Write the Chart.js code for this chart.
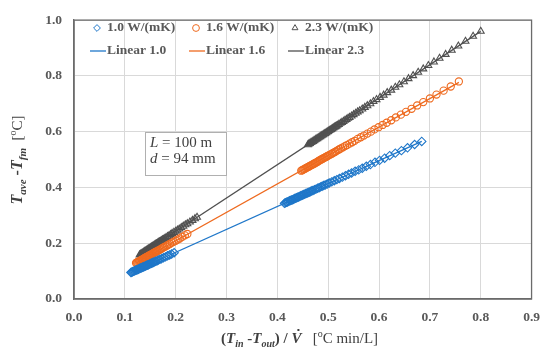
<!DOCTYPE html>
<html>
<head>
<meta charset="utf-8">
<script src="https://cdn.jsdelivr.net/npm/chart.js@4.4.0/dist/chart.umd.min.js"></script>
<style>
  html, body { margin: 0; padding: 0; background: #fff; }
</style>
</head>
<body>
<canvas id="chart1" width="550" height="354"></canvas>
<script>
// values
const xTicks = [0, 0.1, 0.2, 0.3, 0.4, 0.5, 0.6, 0.7, 0.8, 0.9];
const yTicks = [0, 0.2, 0.4, 0.6, 0.8, 1.0];

const seriesNames = ["1.0 W/(mK)", "1.6 W/(mK)", "2.3 W/(mK)"];
const fitNames = ["Linear 1.0", "Linear 1.6", "Linear 2.3"];

// [x, y] pairs
const k10 = [
  [0.1120, 0.095], [0.1135, 0.096], [0.1150, 0.098], [0.1165, 0.099], [0.1180, 0.100], [0.1195, 0.101],
  [0.1210, 0.103], [0.1225, 0.104], [0.1240, 0.105], [0.1255, 0.106], [0.1270, 0.107], [0.1285, 0.109],
  [0.1300, 0.110], [0.1315, 0.111], [0.1330, 0.112], [0.1345, 0.114], [0.1360, 0.115], [0.1375, 0.116],
  [0.1390, 0.117], [0.1405, 0.118], [0.1420, 0.120], [0.1435, 0.121], [0.1450, 0.122], [0.1465, 0.123],
  [0.1480, 0.125], [0.1495, 0.126], [0.1510, 0.127], [0.1525, 0.128], [0.1540, 0.130], [0.1555, 0.131],
  [0.1570, 0.132], [0.1590, 0.134], [0.1610, 0.135], [0.1635, 0.137], [0.1660, 0.140], [0.1690, 0.142],
  [0.1720, 0.144], [0.1760, 0.148], [0.1800, 0.151], [0.1840, 0.155], [0.1880, 0.158], [0.1920, 0.161],
  [0.1970, 0.166],
  [0.414, 0.343], [0.416, 0.345], [0.418, 0.347], [0.420, 0.348], [0.422, 0.350], [0.424, 0.352],
  [0.426, 0.353], [0.428, 0.355], [0.430, 0.356], [0.432, 0.358], [0.434, 0.360], [0.436, 0.361],
  [0.438, 0.363], [0.440, 0.365], [0.442, 0.366], [0.444, 0.368], [0.446, 0.370], [0.448, 0.371],
  [0.450, 0.373], [0.452, 0.375], [0.454, 0.376], [0.456, 0.378], [0.458, 0.379], [0.460, 0.381],
  [0.462, 0.383], [0.464, 0.384], [0.466, 0.386], [0.468, 0.388], [0.470, 0.389], [0.473, 0.392],
  [0.476, 0.394], [0.479, 0.397], [0.482, 0.399], [0.485, 0.402], [0.488, 0.404], [0.491, 0.407],
  [0.494, 0.409], [0.498, 0.412], [0.502, 0.416], [0.507, 0.420], [0.512, 0.424], [0.517, 0.428],
  [0.522, 0.432], [0.528, 0.437], [0.534, 0.442], [0.540, 0.447], [0.546, 0.452], [0.553, 0.458],
  [0.560, 0.463], [0.567, 0.469], [0.575, 0.476], [0.583, 0.482], [0.592, 0.490], [0.601, 0.497],
  [0.611, 0.505], [0.621, 0.514], [0.632, 0.523], [0.644, 0.532], [0.656, 0.542], [0.670, 0.554],
  [0.684, 0.565]
];

const k16 = [
  [0.1220, 0.129], [0.1235, 0.131], [0.1250, 0.132], [0.1265, 0.134], [0.1280, 0.135], [0.1295, 0.137],
  [0.1310, 0.138], [0.1325, 0.140], [0.1340, 0.141], [0.1355, 0.143], [0.1370, 0.145], [0.1385, 0.146],
  [0.1400, 0.148], [0.1415, 0.149], [0.1430, 0.151], [0.1445, 0.152], [0.1460, 0.154], [0.1475, 0.155],
  [0.1490, 0.157], [0.1505, 0.158], [0.1520, 0.160], [0.1535, 0.161], [0.1550, 0.163], [0.1565, 0.165],
  [0.1580, 0.166], [0.1595, 0.168], [0.1610, 0.169], [0.1625, 0.171], [0.1640, 0.172], [0.1660, 0.174],
  [0.1680, 0.176], [0.1700, 0.178], [0.1725, 0.181], [0.1750, 0.184], [0.1775, 0.186], [0.1800, 0.189],
  [0.1830, 0.192], [0.1860, 0.195], [0.1890, 0.198], [0.1925, 0.202], [0.1960, 0.205], [0.2000, 0.209],
  [0.2040, 0.213], [0.2080, 0.217], [0.2130, 0.223], [0.2180, 0.228], [0.2230, 0.233],
  [0.447, 0.460], [0.449, 0.462], [0.451, 0.464], [0.453, 0.466], [0.455, 0.468], [0.457, 0.470],
  [0.459, 0.472], [0.461, 0.474], [0.463, 0.476], [0.465, 0.478], [0.467, 0.480], [0.469, 0.482],
  [0.471, 0.484], [0.473, 0.486], [0.475, 0.488], [0.477, 0.490], [0.479, 0.492], [0.481, 0.495],
  [0.483, 0.497], [0.485, 0.499], [0.487, 0.501], [0.489, 0.503], [0.491, 0.505], [0.493, 0.507],
  [0.495, 0.509], [0.497, 0.511], [0.499, 0.513], [0.501, 0.515], [0.504, 0.518], [0.507, 0.521],
  [0.510, 0.524], [0.513, 0.527], [0.516, 0.530], [0.519, 0.534], [0.522, 0.537], [0.525, 0.540],
  [0.529, 0.544], [0.533, 0.548], [0.537, 0.552], [0.542, 0.557], [0.547, 0.562], [0.552, 0.567],
  [0.558, 0.574], [0.564, 0.580], [0.570, 0.586], [0.577, 0.593], [0.584, 0.600], [0.591, 0.608],
  [0.599, 0.616], [0.607, 0.624], [0.615, 0.632], [0.624, 0.641], [0.633, 0.651], [0.643, 0.661],
  [0.653, 0.671], [0.664, 0.682], [0.675, 0.694], [0.687, 0.706], [0.700, 0.719], [0.713, 0.733],
  [0.727, 0.747], [0.741, 0.762], [0.757, 0.780]
];

const k23 = [
  [0.1290, 0.158], [0.1305, 0.160], [0.1320, 0.162], [0.1335, 0.163], [0.1350, 0.165], [0.1365, 0.167],
  [0.1380, 0.169], [0.1395, 0.171], [0.1410, 0.172], [0.1425, 0.174], [0.1440, 0.176], [0.1455, 0.178],
  [0.1470, 0.180], [0.1485, 0.181], [0.1500, 0.183], [0.1515, 0.185], [0.1530, 0.187], [0.1545, 0.189],
  [0.1560, 0.190], [0.1575, 0.192], [0.1590, 0.194], [0.1605, 0.196], [0.1620, 0.198], [0.1635, 0.199],
  [0.1650, 0.201], [0.1665, 0.203], [0.1680, 0.205], [0.1700, 0.207], [0.1720, 0.209], [0.1740, 0.212],
  [0.1760, 0.214], [0.1785, 0.217], [0.1810, 0.220], [0.1840, 0.224], [0.1870, 0.227], [0.1900, 0.231],
  [0.1930, 0.235], [0.1965, 0.239], [0.2000, 0.243], [0.2035, 0.247], [0.2070, 0.251], [0.2110, 0.256],
  [0.2150, 0.261], [0.2190, 0.266], [0.2230, 0.270], [0.2280, 0.276], [0.2330, 0.282], [0.2380, 0.288],
  [0.2420, 0.293],
  [0.460, 0.553], [0.462, 0.556], [0.464, 0.558], [0.466, 0.561], [0.468, 0.563], [0.470, 0.565],
  [0.472, 0.568], [0.474, 0.570], [0.476, 0.573], [0.478, 0.575], [0.480, 0.577], [0.482, 0.580],
  [0.484, 0.582], [0.486, 0.585], [0.488, 0.587], [0.490, 0.589], [0.492, 0.592], [0.494, 0.594],
  [0.496, 0.596], [0.498, 0.599], [0.500, 0.601], [0.502, 0.604], [0.504, 0.606], [0.506, 0.608],
  [0.508, 0.611], [0.510, 0.613], [0.512, 0.616], [0.514, 0.618], [0.516, 0.620], [0.518, 0.623],
  [0.521, 0.626], [0.524, 0.630], [0.527, 0.633], [0.530, 0.637], [0.533, 0.641], [0.536, 0.644],
  [0.539, 0.648], [0.542, 0.651], [0.546, 0.656], [0.550, 0.661], [0.554, 0.666], [0.558, 0.671],
  [0.562, 0.675], [0.567, 0.681], [0.572, 0.687], [0.577, 0.693], [0.583, 0.700], [0.589, 0.708],
  [0.595, 0.715], [0.602, 0.723], [0.609, 0.731], [0.616, 0.740], [0.624, 0.749], [0.632, 0.759],
  [0.640, 0.768], [0.649, 0.779], [0.658, 0.790], [0.667, 0.801], [0.677, 0.813], [0.687, 0.825],
  [0.697, 0.837], [0.708, 0.850], [0.719, 0.863], [0.731, 0.877], [0.743, 0.892], [0.756, 0.907],
  [0.770, 0.924], [0.785, 0.942], [0.800, 0.960]
];

const colors = ["#1f77c9", "#ee6a1f", "#505050"];
const markers = ["rectRot", "circle", "triangle"];
const markerSizes = [4.2, 3.6, 4.0];

const TXT = "#595959";
const SERIF = "'Liberation Serif', 'Times New Roman', serif";

// least squares trend line across the range of the data (like Excel's linear trendline)
function trend(pts) {
  const n = pts.length;
  let sx = 0, sy = 0, sxx = 0, sxy = 0;
  for (const p of pts) {
    sx += p[0]; sy += p[1]; sxx += p[0] * p[0]; sxy += p[0] * p[1];
  }
  const b = (n * sxy - sx * sy) / (n * sxx - sx * sx);
  const a = (sy - b * sx) / n;
  const x0 = pts[0][0], x1 = pts[n - 1][0];
  return [{ x: x0, y: a + b * x0 }, { x: x1, y: a + b * x1 }];
}

const allPts = [k10, k16, k23];

const datasets = [];
for (let i = 0; i < 3; i++) {
  datasets.push({
    label: seriesNames[i],
    data: allPts[i].map(p => ({ x: p[0], y: p[1] })),
    pointStyle: markers[i],
    pointRadius: markerSizes[i],
    pointBorderWidth: 1.1,
    borderColor: colors[i],
    backgroundColor: "rgba(0,0,0,0)",
    showLine: false,
    order: 2
  });
}
for (let i = 0; i < 3; i++) {
  datasets.push({
    label: fitNames[i],
    data: trend(allPts[i]),
    showLine: true,
    pointRadius: 0,
    borderColor: colors[i],
    borderWidth: 1.3,
    fill: false,
    order: 1
  });
}

// draws a list of text runs [text, font, dy, dotAbove] starting at x, returns the width
function runs(ctx, list, x, y, draw) {
  let cx = x;
  for (const r of list) {
    ctx.font = r[1];
    const w = ctx.measureText(r[0]).width;
    if (draw) {
      ctx.fillText(r[0], cx, y + (r[2] || 0));
      if (r[3]) ctx.fillRect(cx + w * 0.6, y - 14, 2, 2);
    }
    cx += w;
  }
  return cx - x;
}

const extras = {
  id: "extras",
  afterDatasetsDraw(chart) {
    const ctx = chart.ctx;
    const a = chart.chartArea;
    ctx.save();

    // frame
    ctx.strokeStyle = "#6b6b6b";
    ctx.lineWidth = 1.3;
    ctx.strokeRect(a.left, a.top, a.right - a.left, a.bottom - a.top);

    // legend
    const colX = [97, 196, 295];
    ctx.textBaseline = "middle";
    ctx.textAlign = "left";
    for (let i = 0; i < 3; i++) {
      ctx.strokeStyle = colors[i];
      ctx.fillStyle = "rgba(0,0,0,0)";
      ctx.lineWidth = 1;
      Chart.helpers.drawPoint(ctx, { pointStyle: markers[i], radius: 3.4, borderWidth: 1 }, colX[i], 28);

      ctx.beginPath();
      ctx.lineWidth = 1.3;
      ctx.moveTo(colX[i] - 7, 51);
      ctx.lineTo(colX[i] + 9, 51);
      ctx.stroke();

      ctx.fillStyle = TXT;
      ctx.font = "bold 13.5px " + SERIF;
      ctx.fillText(seriesNames[i], colX[i] + 10, 28);
      ctx.fillText(fitNames[i], colX[i] + 10, 51);
    }

    // note box
    ctx.fillStyle = "#fff";
    ctx.fillRect(145, 132, 81, 43);
    ctx.strokeStyle = "#b0b0b0";
    ctx.lineWidth = 1;
    ctx.strokeRect(145.5, 132.5, 81, 43);
    ctx.fillStyle = "#404040";
    ctx.textBaseline = "alphabetic";
    runs(ctx, [["L", "italic 15px " + SERIF], [" = 100 m", "15px " + SERIF]], 150, 147, true);
    runs(ctx, [["d", "italic 15px " + SERIF], [" = 94 mm", "15px " + SERIF]], 150, 163, true);

    // x title
    const bi = "bold italic 15px " + SERIF, b = "bold 15px " + SERIF;
    const bis = "bold italic 10px " + SERIF, n = "15px " + SERIF, ns = "10px " + SERIF;
    const xt = [["(", b], ["T", bi], ["in", bis, 4], [" -", b], ["T", bi], ["out", bis, 4], [") / ", b],
      ["V", bi, 0, true], ["   [", n], ["o", ns, -6], ["C min/L]", n]];
    ctx.fillStyle = "#404040";
    runs(ctx, xt, 221, 343, true);

    // y title
    const yt = [["T", "bold italic 16px " + SERIF], ["ave", "bold italic 11px " + SERIF, 4], [" -", "bold 16px " + SERIF],
      ["T", "bold italic 16px " + SERIF], ["fm", "bold italic 11px " + SERIF, 4], ["  [", "15px " + SERIF],
      ["o", "10px " + SERIF, -6], ["C]", "15px " + SERIF]];
    const w = runs(ctx, yt, 0, 0, false);
    ctx.translate(22, 160);
    ctx.rotate(-Math.PI / 2);
    runs(ctx, yt, -w / 2, 0, true);

    ctx.restore();
  }
};

new Chart(document.getElementById("chart1"), {
  type: "scatter",
  data: { datasets: datasets },
  options: {
    responsive: false,
    animation: false,
    devicePixelRatio: 1,
    layout: { padding: { top: 11, right: 14, left: 0, bottom: 0 } },
    plugins: { legend: { display: false }, tooltip: { enabled: false } },
    scales: {
      x: {
        type: "linear",
        min: xTicks[0],
        max: xTicks[xTicks.length - 1],
        afterBuildTicks: s => { s.ticks = xTicks.map(v => ({ value: v })); },
        afterFit: s => { s.height = 55; },
        ticks: {
          padding: 10,
          color: TXT,
          font: { family: SERIF, size: 13.5, weight: "bold" },
          callback: v => v.toFixed(1)
        },
        grid: { color: "#d9d9d9", drawTicks: false },
        border: { color: "#6b6b6b", width: 1.3 }
      },
      y: {
        min: yTicks[0],
        max: yTicks[yTicks.length - 1],
        afterBuildTicks: s => { s.ticks = yTicks.map(v => ({ value: v })); },
        afterFit: s => { s.width = 74; },
        ticks: {
          padding: 12,
          color: TXT,
          font: { family: SERIF, size: 13.5, weight: "bold" },
          callback: v => v.toFixed(1)
        },
        grid: { color: "#d9d9d9", drawTicks: false },
        border: { color: "#6b6b6b", width: 1.3 }
      }
    }
  },
  plugins: [extras]
});
</script>
</body>
</html>
